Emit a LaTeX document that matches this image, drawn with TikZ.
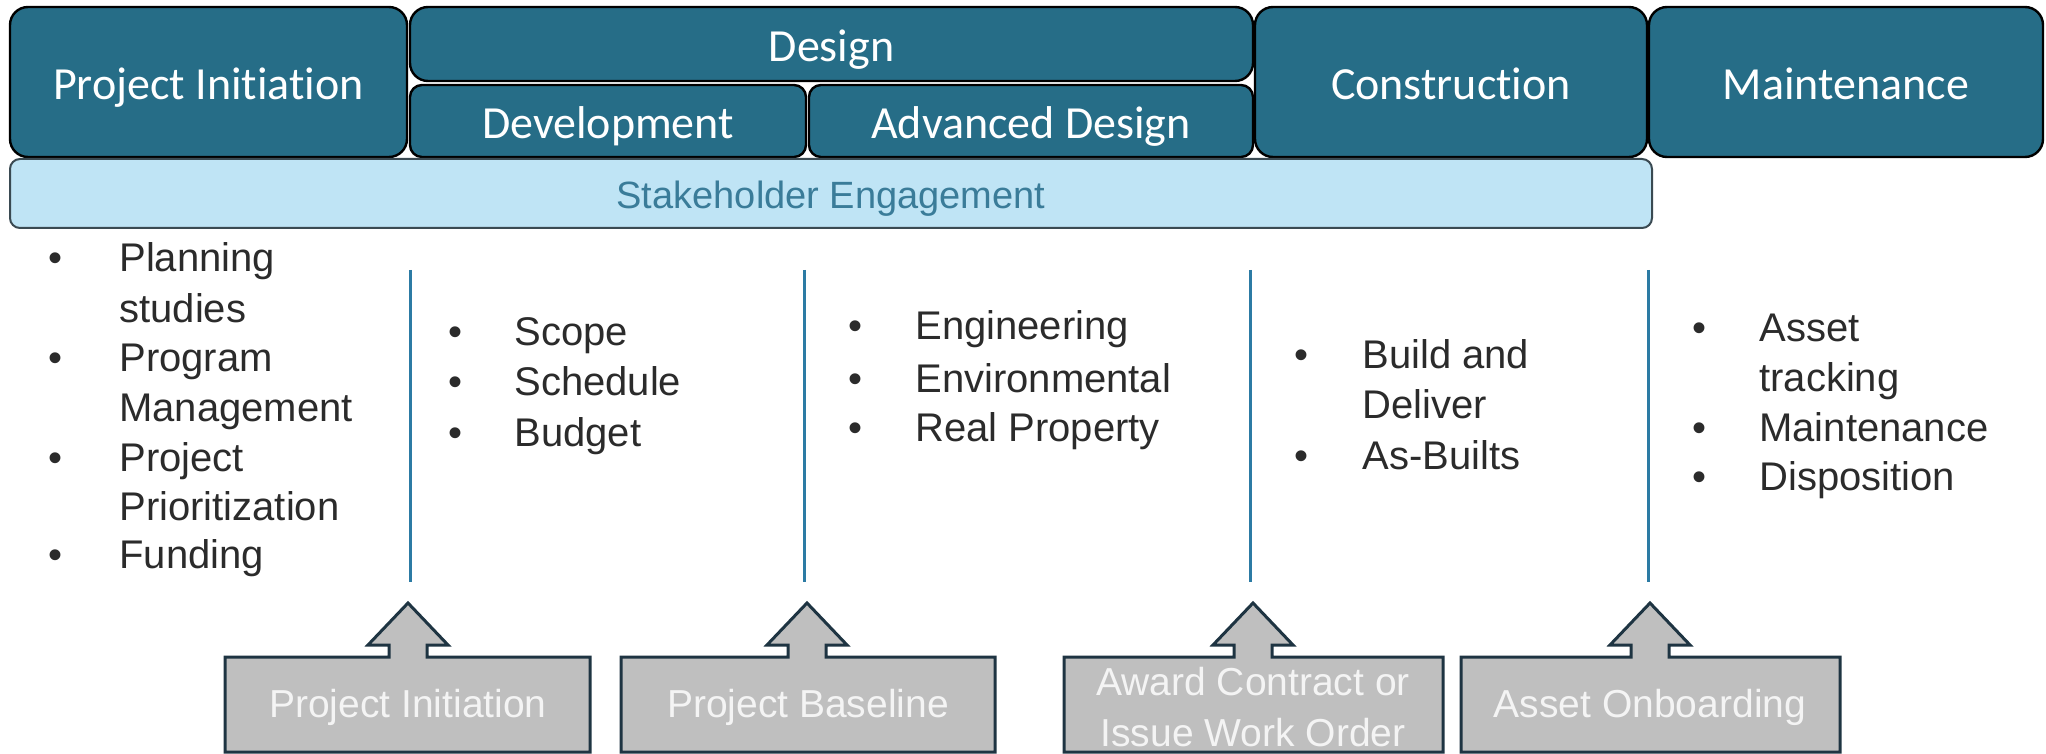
\documentclass[tikz,border=0pt]{standalone}
\usepackage{fontspec}
\setmainfont{Liberation Sans}
\newfontfamily\calibrifont[Ligatures=CommonOff]{Carlito}
\usetikzlibrary{calc}
\definecolor{phaseblue}{HTML}{266D87}
\definecolor{stakefill}{HTML}{BFE4F5}
\definecolor{stakeline}{HTML}{3A4A52}
\definecolor{staketext}{HTML}{3A7C99}
\definecolor{vlinecol}{HTML}{2C7BA4}
\definecolor{textgray}{HTML}{2B2B2B}
\definecolor{boxgray}{HTML}{BFBFBF}
\definecolor{boxline}{HTML}{1E3442}
\definecolor{boxtext}{HTML}{F4F4F4}
\begin{document}
\begin{tikzpicture}[x=0.5pt,y=-0.5pt,
  phase/.style={draw=black, line width=1.2pt, fill=phaseblue, rounded corners=9pt,
    text=white, font=\calibrifont\fontsize{23}{27}\selectfont, inner sep=0pt, anchor=center,
    text height=21.1pt, text depth=4pt},
  subphase/.style={phase, rounded corners=6pt},
  stake/.style={draw=stakeline, line width=1pt, fill=stakefill, rounded corners=5pt,
    text=staketext, font=\fontsize{19}{23}\selectfont, inner sep=0pt,
    text height=18.9pt, text depth=4pt},
  vline/.style={draw=vlinecol, line width=1.5pt},
  btext/.style={anchor=west, inner sep=0pt, text=textgray, font=\fontsize{20}{24}\selectfont,
    text height=14.4pt, text depth=0pt},
  bdot/.style={btext, anchor=center},
  gbox/.style={draw=boxline, line width=1.5pt, fill=boxgray, line join=miter},
  gtext/.style={text=boxtext, font=\fontsize{19.5}{25.5}\selectfont, align=center, inner sep=0pt}
]
\useasboundingbox (0,0) rectangle (2046,754);

% top phase boxes
\node[phase, minimum width=198.5pt, minimum height=75pt] (init) at (208.5,82) {Project Initiation};
\node[phase, minimum width=421.5pt, minimum height=37pt] (design) at (831.5,44) {Design};
\node[subphase, minimum width=198pt, minimum height=36pt] (dev) at (608,121) {Development};
\node[subphase, minimum width=222pt, minimum height=36pt] (adv) at (1031,121) {Advanced Design};
\node[phase, minimum width=196pt, minimum height=75pt] (constr) at (1451,82) {Construction};
\node[phase, minimum width=197pt, minimum height=75pt] (maint) at (1846,82) {Maintenance};

% stakeholder bar
\node[stake, minimum width=821pt, minimum height=34.5pt] (stake) at (831,193.5) {Stakeholder Engagement};

% vertical separators
\coordinate (v1t) at (410,270); \coordinate (v1b) at (410,582);
\coordinate (v2t) at (804,270); \coordinate (v2b) at (804,582);
\coordinate (v3t) at (1250,270); \coordinate (v3b) at (1250,582);
\coordinate (v4t) at (1648,270); \coordinate (v4b) at (1648,582);
\draw[vline] (v1t) -- (v1b);
\draw[vline] (v2t) -- (v2b);
\draw[vline] (v3t) -- (v3b);
\draw[vline] (v4t) -- (v4b);

% column 1
\node[bdot] (c1d1) at (56,257) {•};
\node[btext] (c1a) at (119,257) {Planning};
\node[btext] (c1b) at (119,308) {studies};
\node[bdot] (c1d2) at (56,357.5) {•};
\node[btext] (c1c) at (119,357.5) {Program};
\node[btext] (c1d) at (119,407) {Management};
\node[bdot] (c1d3) at (56,457) {•};
\node[btext] (c1e) at (119,457) {Project};
\node[btext] (c1f) at (119,506) {Prioritization};
\node[bdot] (c1d4) at (56,554.5) {•};
\node[btext] (c1g) at (119,554.5) {Funding};

% column 2
\node[bdot] (c2d1) at (455,331) {•};
\node[btext] (c2a) at (514,331) {Scope};
\node[bdot] (c2d2) at (455,381) {•};
\node[btext] (c2b) at (514,381) {Schedule};
\node[bdot] (c2d3) at (455,432) {•};
\node[btext] (c2c) at (514,432) {Budget};

% column 3
\node[bdot] (c3d1) at (855,325) {•};
\node[btext] (c3a) at (915,325) {Engineering};
\node[bdot] (c3d2) at (855,378) {•};
\node[btext] (c3b) at (915,378) {Environmental};
\node[bdot] (c3d3) at (855,427) {•};
\node[btext] (c3c) at (915,427) {Real Property};

% column 4
\node[bdot] (c4d1) at (1301,354) {•};
\node[btext] (c4a) at (1362,354) {Build and};
\node[btext] (c4b) at (1362,404.5) {Deliver};
\node[bdot] (c4d2) at (1301,455) {•};
\node[btext] (c4c) at (1362,455) {As-Builts};

% column 5
\node[bdot] (c5d1) at (1699,327.5) {•};
\node[btext] (c5a) at (1759,327.5) {Asset};
\node[btext] (c5b) at (1759,377) {tracking};
\node[bdot] (c5d2) at (1699,427) {•};
\node[btext] (c5c) at (1759,427) {Maintenance};
\node[bdot] (c5d3) at (1699,476) {•};
\node[btext] (c5d) at (1759,476) {Disposition};

% bottom milestone boxes with up arrows
\draw[gbox] (225,752) -- (225,657) -- (389,657) -- (389,645) -- (368,645) -- (408,603)
  -- (448,645) -- (427,645) -- (427,657) -- (590,657) -- (590,752) -- cycle;
\draw[gbox] (621,752) -- (621,657) -- (788,657) -- (788,645) -- (767,645) -- (807,603)
  -- (847,645) -- (826,645) -- (826,657) -- (995,657) -- (995,752) -- cycle;
\draw[gbox] (1064,752) -- (1064,657) -- (1234,657) -- (1234,645) -- (1213,645) -- (1253,603)
  -- (1293,645) -- (1272,645) -- (1272,657) -- (1443,657) -- (1443,752) -- cycle;
\draw[gbox] (1461,752) -- (1461,657) -- (1631,657) -- (1631,645) -- (1610,645) -- (1650,603)
  -- (1690,645) -- (1669,645) -- (1669,657) -- (1840,657) -- (1840,752) -- cycle;

\node[gtext] (m1) at (408,707.5) {Project Initiation};
\node[gtext] (m2) at (808,707.5) {Project Baseline};
\node[gtext] (m3) at (1253,707.5) {Award Contract or\\Issue Work Order};
\node[gtext] (m4) at (1650,707.5) {Asset Onboarding};
\end{tikzpicture}
\end{document}
